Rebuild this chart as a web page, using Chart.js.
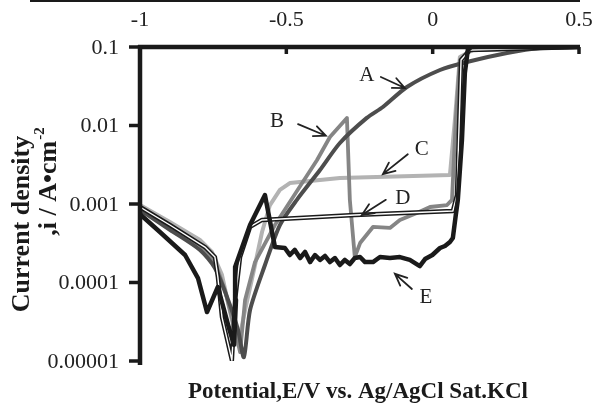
<!DOCTYPE html>
<html>
<head>
<meta charset="utf-8">
<script src="https://cdn.jsdelivr.net/npm/chart.js@4.4.1/dist/chart.umd.min.js"></script>
<style>
  body { margin: 0; background: #fff; }
  #wrap { position: relative; width: 593px; height: 407px; }
  #topRule { position: absolute; left: 30px; top: 0; width: 550px; height: 2px; background: #1a1a1a; }
</style>
</head>
<body>
<div id="wrap">
  <canvas id="polChart" width="593" height="407"></canvas>
  <div id="topRule"></div>
</div>
<script>
const xTicks = [-1, -0.5, 0, 0.5];
const yTicks = [0.1, 0.01, 0.001, 0.0001, 0.00001];
const yTickLabels = ["0.1", "0.01", "0.001", "0.0001", "0.00001"];

// curve A
const aPotential = [-1, -0.898, -0.795, -0.744, -0.699, -0.665, -0.645, -0.624, -0.573, -0.522, -0.464, -0.385, -0.317, -0.225, -0.170, -0.088, 0.025, 0.117, 0.254, 0.366, 0.5];
const aCurrent = [0.00084, 0.00047, 0.00026, 0.000153, 0.00006, 0.0000248, 0.0000112, 0.0000446, 0.000167, 0.00054, 0.00113, 0.00271, 0.00598, 0.0125, 0.0172, 0.0309, 0.0509, 0.0644, 0.0839, 0.0971, 0.1];

// curve B
const bPotential = [-1, -0.898, -0.795, -0.744, -0.710, -0.675, -0.658, -0.641, -0.607, -0.539, -0.477, -0.395, -0.351, -0.293, -0.283, -0.266, -0.248, -0.204, -0.146, -0.112, -0.054, -0.009, 0.049, 0.066, 0.079, 0.093, 0.127, 0.5];
const bCurrent = [0.00089, 0.000525, 0.0003, 0.000182, 0.00008, 0.0000248, 0.000013, 0.00006, 0.000182, 0.00054, 0.00123, 0.00363, 0.00714, 0.0125, 0.00113, 0.000211, 0.000318, 0.00051, 0.000495, 0.000626, 0.000768, 0.000916, 0.00097, 0.00113, 0.0118, 0.0683, 0.0916, 0.1];

// curve C
const cPotential = [-1, -0.898, -0.795, -0.754, -0.720, -0.686, -0.665, -0.641, -0.607, -0.583, -0.556, -0.522, -0.488, -0.317, 0.059, 0.076, 0.093, 0.138, 0.5];
const cCurrent = [0.00097, 0.00059, 0.000348, 0.000245, 0.000125, 0.0000333, 0.000016, 0.0000446, 0.000167, 0.00044, 0.00097, 0.00151, 0.00185, 0.00214, 0.00234, 0.0118, 0.0746, 0.0916, 0.1];

// curve D
const dPotential = [-1, -0.898, -0.778, -0.744, -0.734, -0.720, -0.686, -0.675, -0.658, -0.624, -0.583, -0.266, 0.069, 0.083, 0.097, 0.127, 0.5];
const dCurrent = [0.000916, 0.00054, 0.000283, 0.000211, 0.000118, 0.0000363, 0.0000102, 0.00006, 0.000211, 0.00051, 0.000626, 0.000724, 0.000815, 0.0013, 0.0683, 0.0916, 0.1];

// curve E
const ePotential = [-1, -0.932, -0.846, -0.802, -0.771, -0.734, -0.699, -0.679, -0.672, -0.675, -0.624, -0.573, -0.539, -0.505, -0.488, -0.471, -0.453, -0.436, -0.419, -0.402, -0.385, -0.368, -0.351, -0.334, -0.317, -0.300, -0.283, -0.266, -0.248, -0.231, -0.204, -0.180, -0.146, -0.112, -0.078, -0.044, -0.026, -0.001, 0.025, 0.042, 0.059, 0.069, 0.079, 0.086, 0.100, 0.110, 0.120, 0.131];
const eCurrent = [0.00074, 0.00044, 0.000224, 0.000114, 0.000042, 0.0000877, 0.0000288, 0.000016, 0.00006, 0.000157, 0.00054, 0.0013, 0.000283, 0.000275, 0.000224, 0.00026, 0.000205, 0.000245, 0.000182, 0.000224, 0.000194, 0.000218, 0.000182, 0.000205, 0.000167, 0.000194, 0.000172, 0.000205, 0.000211, 0.000182, 0.000182, 0.000211, 0.000205, 0.000211, 0.000194, 0.000162, 0.000199, 0.000224, 0.000275, 0.000292, 0.000328, 0.000369, 0.000724, 0.00113, 0.00653, 0.0467, 0.0916, 0.1];

// curve labels and arrows (data units)
const curveLabels = ["A", "B", "C", "D", "E"];
const labelPotential = [-0.225, -0.532, -0.037, -0.102, -0.023];
const labelCurrent = [0.044, 0.0114, 0.00488, 0.00119, 0.0000636];
const arrowFromPotential = [-0.177, -0.46, -0.085, -0.16, -0.071];
const arrowFromCurrent = [0.0415, 0.0104, 0.0043, 0.00113, 0.0000826];
const arrowToPotential = [-0.095, -0.365, -0.170, -0.242, -0.129];
const arrowToCurrent = [0.030, 0.0074, 0.0024, 0.000724, 0.000129];

const SERIF = "'Liberation Serif', 'Times New Roman', serif";

function toPoints(xs, ys) {
  return xs.map((x, i) => ({ x: x, y: ys[i] }));
}

function lineSet(label, xs, ys, color, width, tension) {
  return {
    label: label,
    data: toPoints(xs, ys),
    borderColor: color,
    borderWidth: width,
    pointRadius: 0,
    fill: false,
    tension: tension || 0,
    borderJoinStyle: "round",
    borderCapStyle: "round",
  };
}

const decor = {
  id: "decor",
  afterDraw(chart) {
    const { ctx, chartArea, scales } = chart;
    const xs = scales.x;
    const ys = scales.y;
    ctx.save();

    // axes lines and ticks
    ctx.strokeStyle = "#1a1a1a";
    ctx.lineCap = "butt";
    ctx.lineWidth = 4.5;
    ctx.beginPath();
    ctx.moveTo(chartArea.left - 2, chartArea.top);
    ctx.lineTo(chartArea.right + 1, chartArea.top);
    ctx.stroke();
    ctx.beginPath();
    ctx.moveTo(chartArea.left, chartArea.top - 2);
    ctx.lineTo(chartArea.left, chartArea.bottom + 4);
    ctx.stroke();

    ctx.lineWidth = 3.5;
    xTicks.forEach((v) => {
      const px = xs.getPixelForValue(v);
      ctx.beginPath();
      ctx.moveTo(px, chartArea.top);
      ctx.lineTo(px, chartArea.top + 7);
      ctx.stroke();
    });

    // y tick marks and labels
    ctx.fillStyle = "#222";
    ctx.font = "22px " + SERIF;
    ctx.textAlign = "right";
    ctx.textBaseline = "middle";
    yTicks.forEach((v, i) => {
      const py = ys.getPixelForValue(v);
      ctx.beginPath();
      ctx.moveTo(chartArea.left, py);
      ctx.lineTo(chartArea.left - 11, py);
      ctx.stroke();
      ctx.fillText(yTickLabels[i], chartArea.left - 21, py + 1);
    });

    // curve labels with arrows
    ctx.strokeStyle = "#222";
    ctx.lineWidth = 1.8;
    ctx.lineCap = "round";
    ctx.font = "21px " + SERIF;
    ctx.textAlign = "center";
    curveLabels.forEach((t, i) => {
      ctx.fillText(t, xs.getPixelForValue(labelPotential[i]), ys.getPixelForValue(labelCurrent[i]));
      const x1 = xs.getPixelForValue(arrowFromPotential[i]);
      const y1 = ys.getPixelForValue(arrowFromCurrent[i]);
      const x2 = xs.getPixelForValue(arrowToPotential[i]);
      const y2 = ys.getPixelForValue(arrowToCurrent[i]);
      const ang = Math.atan2(y2 - y1, x2 - x1);
      const head = 13;
      ctx.beginPath();
      ctx.moveTo(x1, y1);
      ctx.lineTo(x2, y2);
      ctx.moveTo(x2 - head * Math.cos(ang - 0.42), y2 - head * Math.sin(ang - 0.42));
      ctx.lineTo(x2, y2);
      ctx.lineTo(x2 - head * Math.cos(ang + 0.42), y2 - head * Math.sin(ang + 0.42));
      ctx.stroke();
    });

    // axis titles
    ctx.fillStyle = "#1a1a1a";
    ctx.font = "bold 23px " + SERIF;
    ctx.fillText("Potential,E/V vs. Ag/AgCl Sat.KCl", 358, 392);

    ctx.font = "bold 26px " + SERIF;
    ctx.save();
    ctx.translate(22, 224);
    ctx.rotate(-Math.PI / 2);
    ctx.fillText("Current density", 0, 0);
    ctx.restore();

    ctx.save();
    ctx.translate(49, 182);
    ctx.rotate(-Math.PI / 2);
    const main = ",i / A\u2022cm";
    ctx.font = "bold 26px " + SERIF;
    const w1 = ctx.measureText(main).width;
    ctx.font = "bold 15px " + SERIF;
    const w2 = ctx.measureText("-2").width;
    const start = -(w1 + w2) / 2;
    ctx.textAlign = "left";
    ctx.font = "bold 26px " + SERIF;
    ctx.fillText(main, start, 0);
    ctx.font = "bold 15px " + SERIF;
    ctx.fillText("-2", start + w1 + 1, -9);
    ctx.restore();

    ctx.restore();
  },
};

const ctx = document.getElementById("polChart").getContext("2d");
new Chart(ctx, {
  type: "line",
  data: {
    datasets: [
      lineSet("E", ePotential, eCurrent, "#1a1a1a", 4.5),
      lineSet("D inner", dPotential, dCurrent, "#ffffff", 1.4),
      lineSet("D", dPotential, dCurrent, "#1a1a1a", 4.4),
      lineSet("A", aPotential, aCurrent, "#4d4d4d", 4, 0.25),
      lineSet("B", bPotential, bCurrent, "#858585", 3.8),
      lineSet("C", cPotential, cCurrent, "#b3b3b3", 4),
    ],
  },
  options: {
    responsive: false,
    animation: false,
    layout: { padding: { left: 0, right: 14, top: 0, bottom: 46 } },
    plugins: { legend: { display: false }, tooltip: { enabled: false } },
    scales: {
      x: {
        type: "linear",
        position: "top",
        min: -1,
        max: 0.5,
        afterBuildTicks: (s) => { s.ticks = xTicks.map((v) => ({ value: v })); },
        afterFit: (s) => { s.height = 47; s.paddingLeft = 0; s.paddingRight = 0; },
        grid: { display: false },
        border: { display: false },
        ticks: {
          padding: 6,
          maxRotation: 0,
          color: "#222",
          font: { family: SERIF, size: 22 },
          callback: (v) => String(v),
        },
      },
      y: {
        type: "logarithmic",
        min: 0.00001,
        max: 0.1,
        afterBuildTicks: (s) => { s.ticks = yTicks.map((v) => ({ value: v })); },
        afterFit: (s) => { s.width = 140; s.paddingTop = 0; s.paddingBottom = 0; },
        grid: { display: false },
        border: { display: false },
        ticks: { display: false },
      },
    },
  },
  plugins: [decor],
});
</script>
</body>
</html>
